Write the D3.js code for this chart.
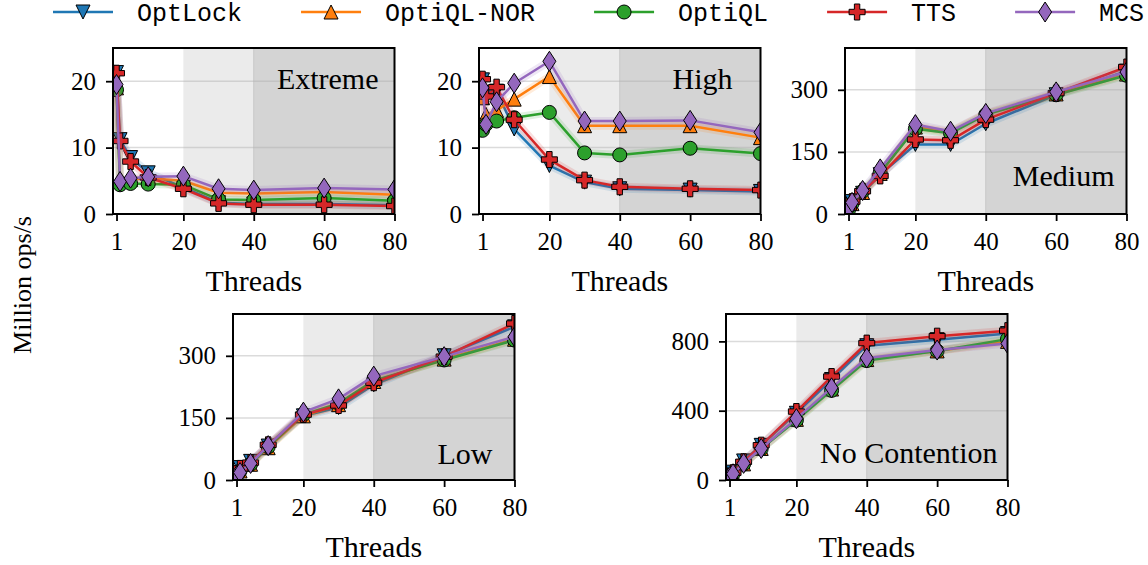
<!DOCTYPE html>
<html>
<head>
<meta charset="utf-8">
<script src="https://cdn.jsdelivr.net/npm/d3@7"></script>
<style>
  body { margin: 0; background: #fff; }
  svg { display: block; }
</style>
</head>
<body>
<svg id="chart"></svg>
<script>
const WIDTH = 1148;
const HEIGHT = 565;

// x values shared by every panel
const threads = [1, 2, 5, 10, 20, 30, 40, 60, 80];
const xTicks = [1, 20, 40, 60, 80];
const seriesNames = ['OptLock', 'OptiQL-NOR', 'OptiQL', 'TTS', 'MCS'];
const colors = ['#1f77b4', '#ff7f0e', '#2ca02c', '#d62728', '#9467bd'];

// Extreme contention (Million ops/s)
const extremeOptLock   = [21.3, 11.2, 8.5, 6.2, 4.0, 1.7, 1.5, 1.5, 1.3];
const extremeOptiQLNOR = [19.0, 5.0, 5.2, 5.4, 5.0, 3.2, 3.1, 3.3, 2.9];
const extremeOptiQL    = [18.7, 4.4, 4.6, 4.5, 4.4, 2.2, 2.1, 2.4, 2.0];
const extremeTTS       = [21.2, 11.0, 7.9, 5.5, 3.8, 1.6, 1.4, 1.4, 1.2];
const extremeMCS       = [19.5, 4.9, 5.4, 5.6, 5.7, 3.8, 3.6, 3.9, 3.7];

// High contention
const highOptLock   = [20.2, 17.8, 18.5, 12.8, 7.3, 4.8, 3.8, 3.6, 3.4];
const highOptiQLNOR = [17.5, 15.0, 15.6, 17.3, 20.7, 13.3, 13.3, 13.3, 11.5];
const highOptiQL    = [12.6, 13.5, 14.0, 14.5, 15.3, 9.2, 8.9, 9.9, 9.1];
const highTTS       = [20.3, 17.7, 19.1, 14.2, 8.2, 5.1, 4.1, 3.8, 3.6];
const highMCS       = [19.0, 13.5, 16.9, 19.7, 23.0, 14.0, 14.0, 14.1, 12.3];

// Medium contention
const mediumOptLock   = [15, 30, 50, 95, 168, 168, 218, 288, 345];
const mediumOptiQLNOR = [10, 25, 52, 98, 210, 198, 242, 290, 338];
const mediumOptiQL    = [10, 25, 55, 100, 206, 195, 240, 288, 335];
const mediumTTS       = [15, 30, 55, 92, 180, 178, 228, 292, 355];
const mediumMCS       = [12, 28, 57, 109, 216, 200, 243, 295, 343];

// Low contention
const lowOptLock   = [12, 30, 45, 82, 155, 175, 230, 300, 370];
const lowOptiQLNOR = [8, 22, 38, 78, 155, 182, 238, 292, 340];
const lowOptiQL    = [10, 22, 38, 80, 158, 185, 240, 290, 338];
const lowTTS       = [15, 28, 42, 85, 158, 180, 235, 298, 378];
const lowMCS       = [10, 18, 40, 83, 164, 196, 251, 298, 346];

// No contention
const noneOptLock   = [22, 45, 110, 200, 385, 580, 775, 810, 845];
const noneOptiQLNOR = [18, 36, 93, 182, 350, 525, 695, 745, 800];
const noneOptiQL    = [18, 35, 92, 180, 345, 517, 689, 745, 813];
const noneTTS       = [21, 42, 105, 201, 395, 597, 790, 830, 862];
const noneMCS       = [19, 36, 96, 182, 354, 532, 704, 750, 788];

const yTicksLow  = [0, 10, 20];
const yTicksMid  = [0, 150, 300];
const yTicksNone = [0, 400, 800];

// shaded thread ranges
const spans = [[20, 40], [40, 80]];
const spanColors = ['#ebebeb', '#d4d4d4'];

// panel layout
const panels = [
  {name: 'Extreme', series: [extremeOptLock, extremeOptiQLNOR, extremeOptiQL, extremeTTS, extremeMCS],
   yMax: 25, yTicks: yTicksLow, left: 113, top: 48, labelY: 41, labelInset: 16},
  {name: 'High', series: [highOptLock, highOptiQLNOR, highOptiQL, highTTS, highMCS],
   yMax: 25, yTicks: yTicksLow, left: 479, top: 48, labelY: 41, labelInset: 28},
  {name: 'Medium', series: [mediumOptLock, mediumOptiQLNOR, mediumOptiQL, mediumTTS, mediumMCS],
   yMax: 401, yTicks: yTicksMid, left: 845, top: 48, labelY: 138, labelInset: 12},
  {name: 'Low', series: [lowOptLock, lowOptiQLNOR, lowOptiQL, lowTTS, lowMCS],
   yMax: 401, yTicks: yTicksMid, left: 233, top: 314, labelY: 150, labelInset: 22},
  {name: 'No Contention', series: [noneOptLock, noneOptiQLNOR, noneOptiQL, noneTTS, noneMCS],
   yMax: 958, yTicks: yTicksNone, left: 726, top: 314, labelY: 149, labelInset: 10}
];
const PW = 281.5, PH = 166;

const SERIF = '"Liberation Serif", "Times New Roman", serif';
const MONO = '"Liberation Mono", "Courier New", monospace';

// marker shapes, centred on 0,0
function markerPath(i) {
  if (i === 0) { const r = 7; return `M${-r},${-r}L${r},${-r}L0,${r}Z`; }
  if (i === 1) { const r = 7; return `M0,${-r}L${r},${r}L${-r},${r}Z`; }
  if (i === 2) return d3.symbol(d3.symbolCircle, Math.PI * 49)();
  if (i === 3) {
    const r = 8, a = 2.7;
    return `M${-a},${-r}H${a}V${-a}H${r}V${a}H${a}V${r}H${-a}V${a}H${-r}V${-a}H${-a}Z`;
  }
  const h = 10, w = 6.5;
  return `M0,${-h}L${w},0L0,${h}L${-w},0Z`;
}

const svg = d3.select('#chart').attr('width', WIDTH).attr('height', HEIGHT);
const defs = svg.append('defs');

panels.forEach(function(p, pi) {
  const g = svg.append('g').attr('transform', `translate(${p.left},${p.top})`);
  const x = d3.scaleLinear().domain([0, 80]).range([0, PW]);
  const y = d3.scaleLinear().domain([0, p.yMax]).range([PH, 0]);

  defs.append('clipPath').attr('id', 'clip' + pi)
    .append('rect').attr('width', PW).attr('height', PH);

  const plot = g.append('g').attr('clip-path', `url(#clip${pi})`);

  plot.selectAll('rect.span').data(spans).enter().append('rect')
    .attr('x', d => x(d[0])).attr('width', d => x(d[1]) - x(d[0]))
    .attr('y', 0).attr('height', PH)
    .attr('fill', (d, i) => spanColors[i]);

  plot.append('line').attr('x1', x(40)).attr('x2', x(40)).attr('y1', 0).attr('y2', PH)
    .attr('stroke', '#c6c6c6').attr('stroke-width', 1);

  plot.selectAll('line.grid').data(p.yTicks).enter().append('line')
    .attr('x1', 0).attr('x2', PW)
    .attr('y1', d => y(d)).attr('y2', d => y(d))
    .attr('stroke', '#b0b0b0').attr('stroke-opacity', 0.45).attr('stroke-width', 1.5);

  const line = d3.line().x((d, i) => x(threads[i])).y(d => y(d));

  p.series.forEach(function(vals, si) {
    plot.append('path').attr('d', line(vals)).attr('fill', 'none')
      .attr('stroke', colors[si]).attr('stroke-opacity', 0.15).attr('stroke-width', 8);
    plot.append('path').attr('d', line(vals)).attr('fill', 'none')
      .attr('stroke', colors[si]).attr('stroke-width', 2.5).attr('stroke-linejoin', 'round');
    plot.selectAll(null).data(vals).enter().append('path')
      .attr('transform', (d, i) => `translate(${x(threads[i])},${y(d)})`)
      .attr('d', markerPath(si))
      .attr('fill', colors[si]).attr('stroke', '#000').attr('stroke-width', 1);
  });

  // panel title
  g.append('text')
    .attr('x', PW - p.labelInset)
    .attr('y', p.labelY)
    .attr('text-anchor', 'end')
    .attr('font-family', SERIF).attr('font-size', 30)
    .text(p.name);

  // spines
  g.append('rect').attr('width', PW).attr('height', PH)
    .attr('fill', 'none').attr('stroke', '#000').attr('stroke-width', 2);

  const xAxis = g.append('g').attr('transform', `translate(0,${PH})`)
    .call(d3.axisBottom(x).tickValues(xTicks).tickSize(7).tickPadding(11));
  const yAxis = g.append('g')
    .call(d3.axisLeft(y).tickValues(p.yTicks).tickSize(7).tickPadding(10));
  [xAxis, yAxis].forEach(function(a) {
    a.select('.domain').remove();
    a.selectAll('line').attr('stroke', '#000').attr('stroke-width', 1.8);
    a.selectAll('text').attr('font-family', SERIF).attr('font-size', 25).attr('fill', '#000');
  });

  g.append('text')
    .attr('x', PW / 2).attr('y', PH + 77)
    .attr('text-anchor', 'middle')
    .attr('font-family', SERIF).attr('font-size', 30)
    .text('Threads');
});

svg.append('text')
  .attr('transform', 'translate(31,285) rotate(-90)')
  .attr('text-anchor', 'middle')
  .attr('font-family', SERIF).attr('font-size', 26)
  .text('Million ops/s');

// legend
const legend = svg.append('g').attr('transform', 'translate(0,12)');
let lx = 53;
seriesNames.forEach(function(name, si) {
  const item = legend.append('g').attr('transform', `translate(${lx},0)`);
  item.append('line').attr('x1', 0).attr('x2', 60).attr('y1', 0).attr('y2', 0)
    .attr('stroke', colors[si]).attr('stroke-width', 2.5);
  item.append('path').attr('transform', 'translate(30,0)').attr('d', markerPath(si))
    .attr('fill', colors[si]).attr('stroke', '#000').attr('stroke-width', 1);
  const t = item.append('text').attr('x', 84).attr('y', 9)
    .attr('font-family', MONO).attr('font-size', 25)
    .text(name);
  lx += 84 + t.node().getComputedTextLength() + 59;
});
</script>
</body>
</html>
